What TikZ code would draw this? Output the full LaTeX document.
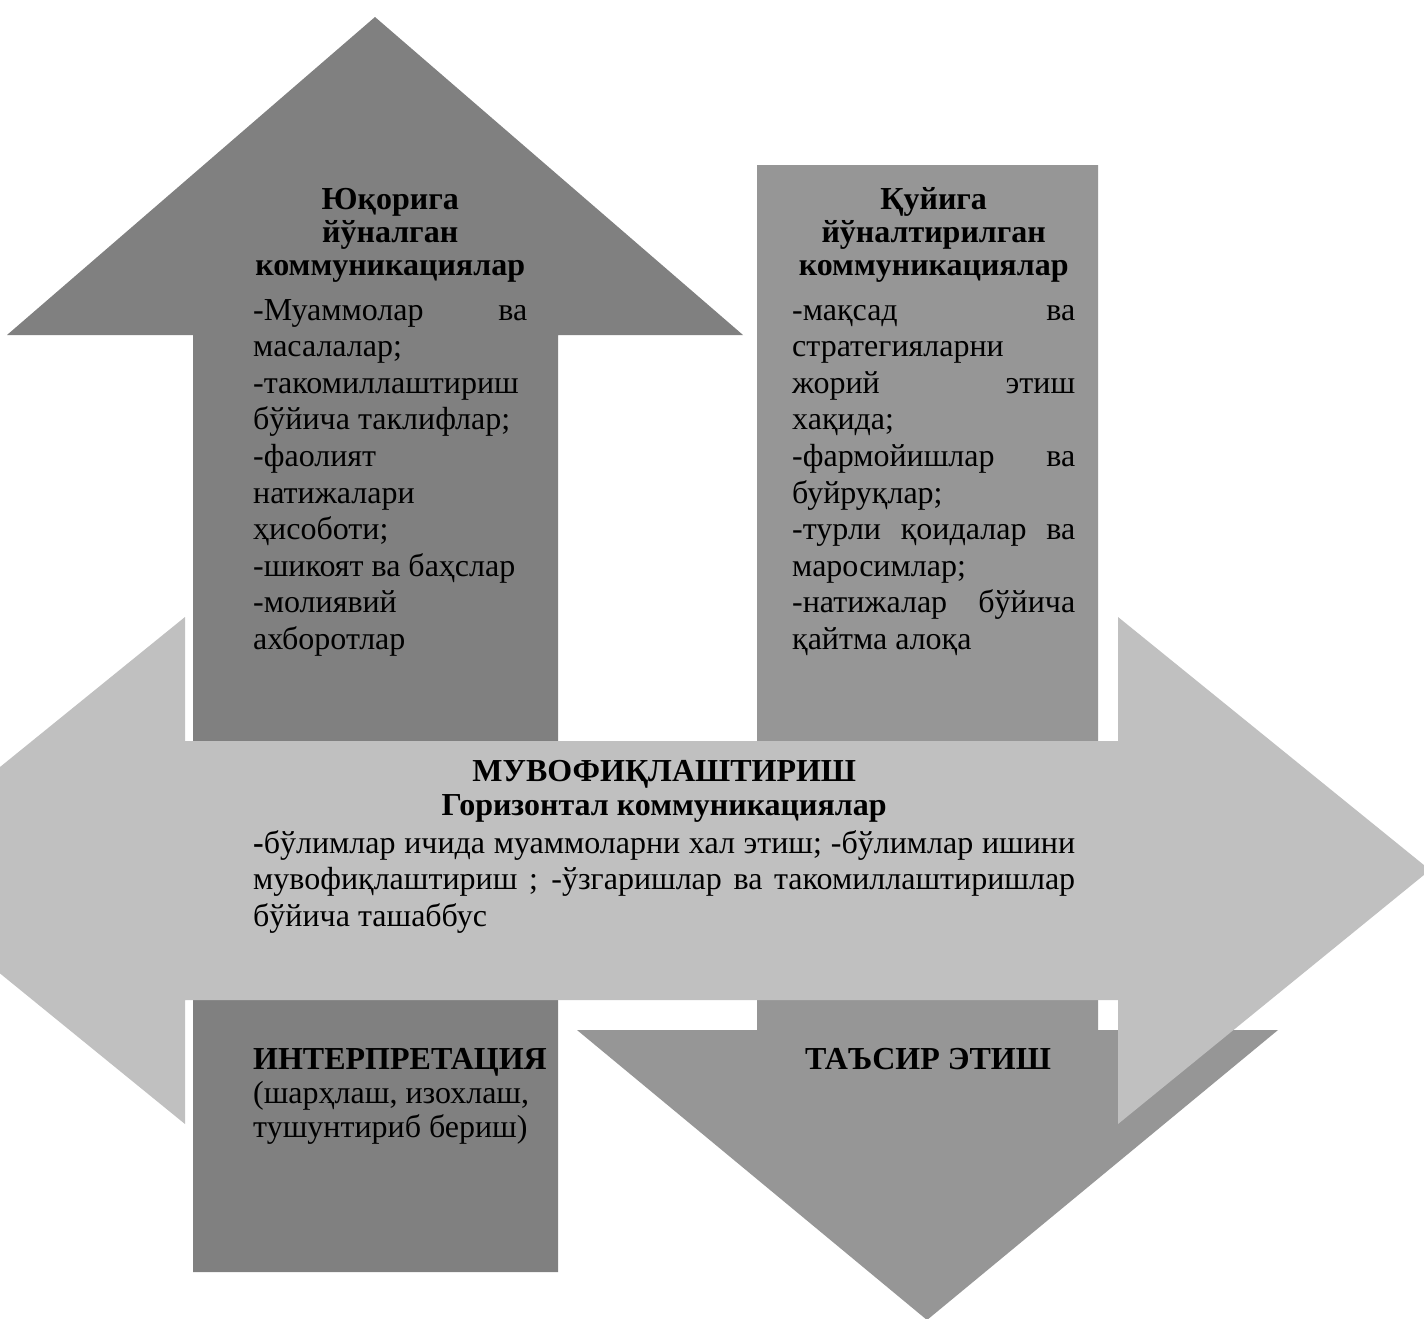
\documentclass[tikz,border=0pt]{standalone}
\usepackage{fontspec}
\setmainfont{Liberation Serif}
\definecolor{updark}{RGB}{128,128,128}
\definecolor{downmid}{RGB}{150,150,150}
\definecolor{sidelight}{RGB}{192,192,192}
% one line of a text column: full width (justified), flush left, centred
\newcommand\rowfull[1]{\hbox to\hsize{\spaceskip=0.25em plus 1fil\relax #1}}
\newcommand\rowleft[1]{\hbox to\hsize{#1\hfil}}
\newcommand\rowmid[1]{\hbox to\hsize{\hfil #1\hfil}}
\begin{document}
\begin{tikzpicture}[x=1pt,y=-1pt,
  label text/.style={inner sep=0pt, anchor=base west,
    font=\fontsize{32}{36.6}\selectfont}]
\clip (0,0) rectangle (1424,1318);
\fill[white] (0,0) rectangle (1424,1318);

% upward arrow
\fill[updark] (375,17) -- (743,335) -- (558,335) -- (558,1272) -- (193,1272)
  -- (193,335) -- (7,335) -- cycle;
% downward arrow
\fill[downmid] (757,165) -- (1098,165) -- (1098,1030) -- (1278,1030)
  -- (927,1320) -- (577,1030) -- (757,1030) -- cycle;
% horizontal two-headed arrow
\fill[sidelight] (-127,870) -- (185,617) -- (185,741) -- (1118,741) -- (1118,617)
  -- (1430,870) -- (1118,1124) -- (1118,1000) -- (185,1000) -- (185,1124) -- cycle;

% upward communications
\node[label text] (upText) at (253,209) {\vtop{\hsize=274pt \lineskiplimit=-100pt
  \baselineskip=33pt
  \rowmid{\bfseries Юқорига}
  \rowmid{\bfseries йўналган}
  \rowmid{\bfseries коммуникациялар}
  \baselineskip=45pt
  \rowfull{-Муаммолар ва}
  \baselineskip=36.6pt
  \rowleft{масалалар;}
  \rowleft{-такомиллаштириш}
  \rowleft{бўйича таклифлар;}
  \rowleft{-фаолият}
  \rowleft{натижалари}
  \rowleft{ҳисоботи;}
  \rowleft{-шикоят ва баҳслар}
  \rowleft{-молиявий}
  \rowleft{ахборотлар}}};

% downward communications
\node[label text] (downText) at (792,209) {\vtop{\hsize=283pt \lineskiplimit=-100pt
  \baselineskip=33pt
  \rowmid{\bfseries Қуйига}
  \rowmid{\bfseries йўналтирилган}
  \rowmid{\bfseries коммуникациялар}
  \baselineskip=45pt
  \rowfull{-мақсад ва}
  \baselineskip=36.6pt
  \rowleft{стратегияларни}
  \rowfull{жорий этиш}
  \rowleft{хақида;}
  \rowfull{-фармойишлар ва}
  \rowleft{буйруқлар;}
  \rowfull{-турли қоидалар ва}
  \rowleft{маросимлар;}
  \rowfull{-натижалар бўйича}
  \rowleft{қайтма алоқа}}};

% horizontal communications
\node[label text] (sideText) at (253,781) {\vtop{\hsize=822pt \lineskiplimit=-100pt
  \baselineskip=34pt
  \rowmid{\bfseries МУВОФИҚЛАШТИРИШ}
  \rowmid{\bfseries Горизонтал коммуникациялар}
  \baselineskip=38pt
  \rowfull{{\bfseries -}бўлимлар ичида муаммоларни хал этиш; -бўлимлар ишини}
  \baselineskip=36.6pt
  \rowfull{мувофиқлаштириш ; -ўзгаришлар ва такомиллаштиришлар}
  \rowleft{бўйича ташаббус}}};

% interpretation
\node[label text] (interpText) at (253,1069) {\vtop{\hsize=300pt \lineskiplimit=-100pt
  \baselineskip=34pt
  \rowleft{\bfseries ИНТЕРПРЕТАЦИЯ}
  \rowleft{(шарҳлаш, изохлаш,}
  \rowleft{тушунтириб бериш)}}};

% influence
\node[label text, anchor=base] (influenceText) at (928,1069) {\bfseries ТАЪСИР ЭТИШ};
\end{tikzpicture}
\end{document}
